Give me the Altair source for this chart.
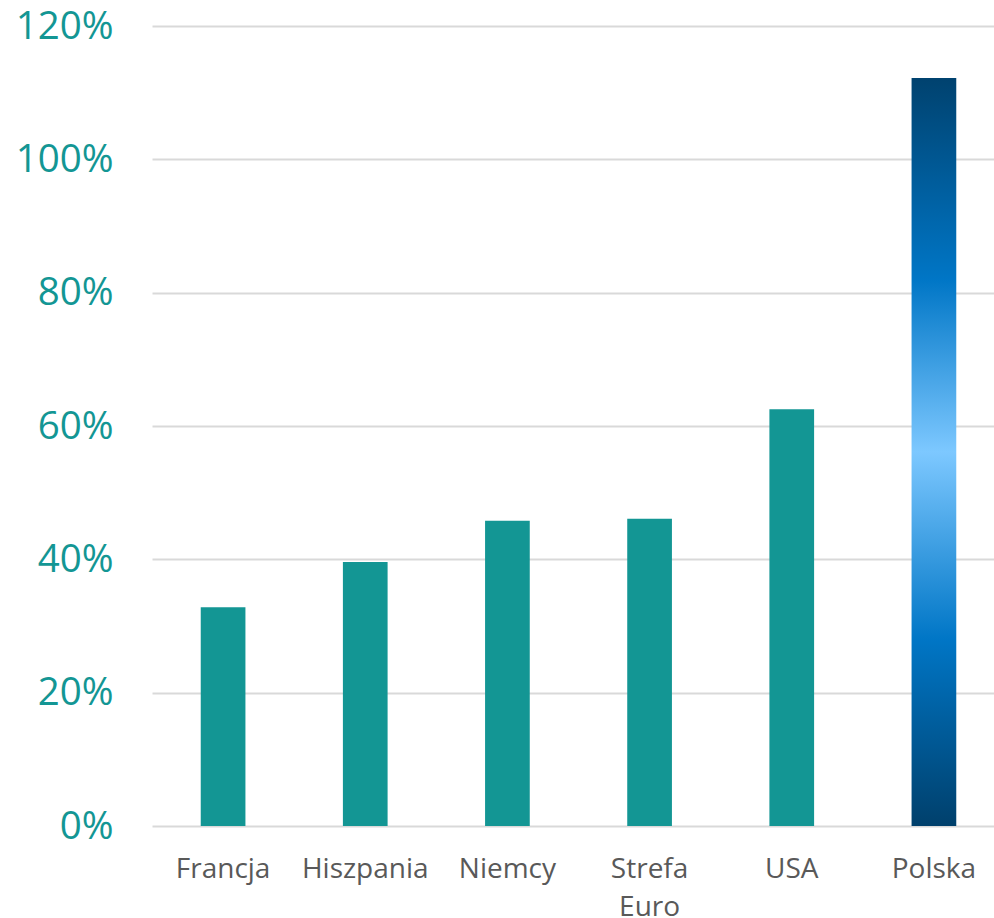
import altair as alt
import pandas as pd

categories = ["Francja", "Hiszpania", "Niemcy", "Strefa Euro", "USA", "Polska"]
values = [0.328, 0.396, 0.458, 0.461, 0.625, 1.122]
y_ticks = [0, 0.2, 0.4, 0.6, 0.8, 1.0, 1.2]

df = pd.DataFrame({"kraj": categories, "wartosc": values})

TEAL = "#139694"
FONT = "Open Sans"

x_enc = alt.X(
    "kraj:N",
    sort=categories,
    scale=alt.Scale(range=[0, 853], paddingInner=0.6856, paddingOuter=0.3428),
    axis=alt.Axis(
        title=None,
        domain=False,
        ticks=False,
        tickSize=0,
        grid=False,
        labelAngle=0,
        labelFont=FONT,
        labelFontSize=28,
        labelColor="#595959",
        labelPadding=29,
        labelLineHeight=38,
        labelBaseline="top",
        labelExpr="datum.label == 'Strefa Euro' ? ['Strefa', 'Euro'] : datum.label",
    ),
)

y_enc = alt.Y(
    "wartosc:Q",
    scale=alt.Scale(domain=[0, 1.2], nice=False),
    axis=alt.Axis(
        title=None,
        values=y_ticks,
        format=".0%",
        domain=False,
        ticks=False,
        tickSize=0,
        grid=True,
        gridColor="#d9d9d9",
        gridWidth=2,
        labelFont=FONT,
        labelFontSize=38.5,
        labelColor=TEAL,
        labelPadding=39,
    ),
)

base = alt.Chart(df)

teal_bars = base.transform_filter(alt.datum.kraj != "Polska").mark_bar(color=TEAL).encode(
    x=x_enc, y=y_enc
)

grad = alt.Gradient(
    gradient="linear",
    x1=0, y1=0, x2=0, y2=1,
    stops=[
        alt.GradientStop(color="#00426f", offset=0),
        alt.GradientStop(color="#0076c6", offset=0.27),
        alt.GradientStop(color="#7dc8ff", offset=0.5),
        alt.GradientStop(color="#0076c6", offset=0.75),
        alt.GradientStop(color="#00406c", offset=1),
    ],
)

pl_bar = base.transform_filter(alt.datum.kraj == "Polska").mark_bar(color=grad).encode(
    x=x_enc, y=y_enc
)

chart = (
    alt.layer(teal_bars, pl_bar)
    .properties(
        width=842,
        height=800,
        autosize=alt.AutoSizeParams(type="none"),
        padding={"left": 152, "top": 26, "right": 0, "bottom": 92},
        background="white",
    )
    .configure_view(strokeWidth=0)
)

chart.save("out.html", embed_options={"renderer": "svg", "actions": False})
